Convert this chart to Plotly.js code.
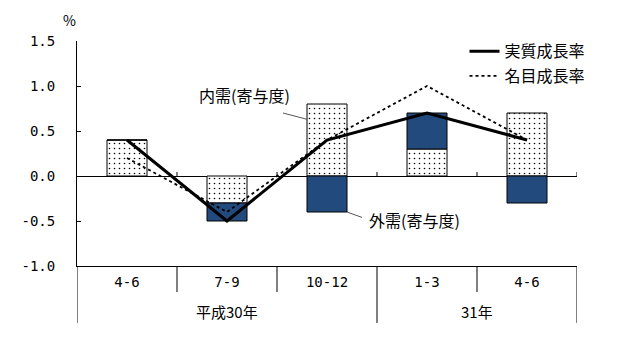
<!DOCTYPE html>
<html>
<head>
<meta charset="utf-8">
<script src="https://cdn.plot.ly/plotly-3.0.1.min.js"></script>
<style>html,body{margin:0;padding:0;background:#fff;}#chart{width:624px;height:352px;}</style>
</head>
<body>
<div id="chart"></div>
<script>
// Data
const quarters = ["4-6", "7-9", "10-12", "1-3", "4-6"];
const years = ["平成30年", "31年"];
const yearSpan = [[0, 2], [3, 4]];
const domestic = [0.4, -0.3, 0.8, 0.3, 0.7];
const external = [0.0, -0.2, -0.4, 0.4, -0.3];
const realGrowth = [0.4, -0.5, 0.4, 0.7, 0.4];
const nominalGrowth = [0.2, -0.4, 0.4, 1.0, 0.4];
const yTicks = [-1.0, -0.5, 0.0, 0.5, 1.0, 1.5];

const xs = quarters.map((_, i) => i);
const JP = "'Noto Sans CJK JP', sans-serif";
const MONO = "'DejaVu Sans Mono', monospace";

const traces = [
  {
    type: "bar", x: xs, y: domestic, width: 0.4, showlegend: false, hoverinfo: "skip",
    marker: {color: "#ffffff", line: {color: "#000", width: 1},
      pattern: {shape: ".", fgcolor: "#000", bgcolor: "#fff", size: 5, solidity: 0.08}}
  },
  {
    type: "bar", x: xs, y: external, width: 0.4, showlegend: false, hoverinfo: "skip",
    marker: {color: "#234A7D", line: {color: "#000", width: 1}}
  },
  {
    type: "scatter", mode: "lines", x: xs, y: realGrowth, name: "実質成長率",
    line: {color: "#000", width: 3}, legend: "legend"
  },
  {
    type: "scatter", mode: "lines", x: xs, y: nominalGrowth, name: "名目成長率",
    line: {color: "#000", width: 1.8, dash: "dot"}, legend: "legend2"
  }
];

// separators for the category table below the axis
const shapes = [];
const shortBounds = [0.5, 1.5, 3.5];
const longBounds = [-0.5, 2.5, 4.5];
shortBounds.forEach(b => shapes.push({type: "line", xref: "x", yref: "paper", x0: b, x1: b, y0: 0, y1: -0.116, line: {color: "#000", width: 1}}));
longBounds.forEach(b => shapes.push({type: "line", xref: "x", yref: "paper", x0: b, x1: b, y0: 0, y1: -0.253, line: {color: "#000", width: 1}}));
// small ticks on the zero line
[0.5, 1.5, 2.5, 3.5, 4.5].forEach(b => shapes.push({type: "line", xref: "x", yref: "y", x0: b, x1: b, y0: 0, y1: 0.045, line: {color: "#000", width: 1}}));
// leader lines
shapes.push({type: "line", xref: "x", yref: "y", x0: 1.56, y0: 0.70, x1: 1.8, y1: 0.63, line: {color: "#555", width: 1}});
shapes.push({type: "line", xref: "x", yref: "y", x0: 2.2, y0: -0.40, x1: 2.35, y1: -0.46, line: {color: "#555", width: 1}});

const annotations = [
  {text: "%", xref: "paper", yref: "paper", x: -0.016, y: 1.093, xanchor: "center", yanchor: "middle", showarrow: false, font: {family: JP, size: 14, color: "#000"}},
  {text: "内需(寄与度)", xref: "x", yref: "y", x: 1.17, y: 0.9, xanchor: "center", yanchor: "middle", showarrow: false, font: {family: JP, size: 16, color: "#000"}},
  {text: "外需(寄与度)", xref: "x", yref: "y", x: 2.87, y: -0.49, xanchor: "center", yanchor: "middle", showarrow: false, font: {family: JP, size: 16, color: "#000"}}
];
years.forEach((y, i) => annotations.push({
  text: y, xref: "x", yref: "paper", x: (yearSpan[i][0] + yearSpan[i][1]) / 2, y: -0.204,
  xanchor: "center", yanchor: "middle",
  showarrow: false, font: {family: JP, size: 15, color: "#000"}
}));

const layout = {
  width: 624, height: 352,
  margin: {l: 77, r: 47, t: 41, b: 86},
  paper_bgcolor: "#fff", plot_bgcolor: "#fff",
  barmode: "relative", bargap: 0.6,
  font: {family: JP, color: "#000"},
  xaxis: {
    range: [-0.5, 4.5], tickvals: xs, ticktext: quarters, ticks: "", showgrid: false, zeroline: false,
    showline: true, linecolor: "#000", linewidth: 1, tickfont: {family: MONO, size: 14, color: "#000"},
    ticklabelstandoff: 3, fixedrange: true
  },
  yaxis: {
    range: [-1.0, 1.5], tickvals: yTicks, ticktext: yTicks.map(v => v.toFixed(1)), ticks: "inside", ticklen: 4,
    tickcolor: "#000", showgrid: false, zeroline: true, zerolinecolor: "#000", zerolinewidth: 1,
    showline: true, linecolor: "#000", linewidth: 1, tickfont: {family: MONO, size: 14, color: "#000"},
    ticklabelstandoff: 18, fixedrange: true
  },
  legend: {x: 0.775, y: 1.03, xanchor: "left", yanchor: "top", bgcolor: "rgba(0,0,0,0)", font: {family: JP, size: 16, color: "#000"}},
  legend2: {x: 0.775, y: 0.92, xanchor: "left", yanchor: "top", bgcolor: "rgba(0,0,0,0)", font: {family: JP, size: 16, color: "#000"}},
  shapes: shapes,
  annotations: annotations
};

Plotly.newPlot("chart", traces, layout, {staticPlot: true, displayModeBar: false});
</script>
</body>
</html>
